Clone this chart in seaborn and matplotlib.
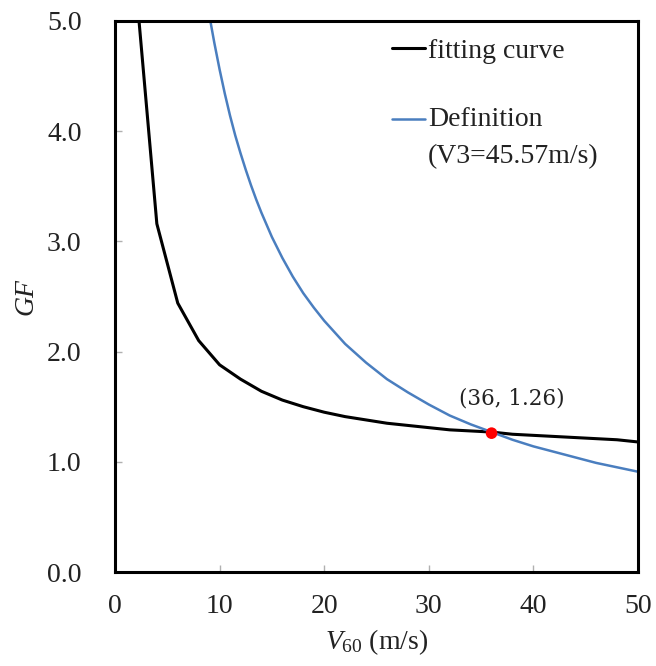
import numpy as np
import pandas as pd
import matplotlib
matplotlib.use("Agg")
import matplotlib.pyplot as plt
import seaborn as sns
from matplotlib.legend_handler import HandlerLine2D

# ---- data ----
fit_v = [2, 4, 6, 8, 10, 12, 14, 16, 18, 20, 22, 24, 26, 28, 30, 32, 34, 36, 38, 40, 42, 44, 46, 48, 50]
fit_gf = [5.32, 3.16, 2.44, 2.10, 1.88, 1.75, 1.64, 1.56, 1.50, 1.45, 1.41, 1.38, 1.35, 1.33, 1.31, 1.29, 1.28,
          1.27, 1.25, 1.24, 1.23, 1.22, 1.21, 1.20, 1.18]
def_v = [9, 9.5, 10, 10.5, 11, 11.5, 12, 12.5, 13, 13.5, 14, 15, 16, 17, 18, 19, 20, 22, 24, 26, 28, 30, 32, 34,
         36, 38, 40, 42, 44, 46, 48, 50]
def_gf = [5.06, 4.80, 4.56, 4.34, 4.14, 3.96, 3.80, 3.65, 3.51, 3.38, 3.26, 3.04, 2.85, 2.68, 2.53, 2.40, 2.28,
          2.07, 1.90, 1.75, 1.63, 1.52, 1.42, 1.34, 1.27, 1.20, 1.14, 1.09, 1.04, 0.99, 0.95, 0.91]
point_v = [36]
point_gf = [1.26]
point_label = "(36, 1.26)"
x_ticks = [0, 10, 20, 30, 40, 50]
y_ticks = [0.0, 1.0, 2.0, 3.0, 4.0, 5.0]
series_names = ["fitting curve", "Definition\n(V3=45.57m/s)"]

sns.set_theme(style="white")
plt.rcParams['font.family'] = ['Liberation Serif', 'DejaVu Serif']
plt.rcParams['mathtext.fontset'] = 'custom'
plt.rcParams['mathtext.rm'] = 'Liberation Serif'
plt.rcParams['mathtext.it'] = 'Liberation Serif:italic'

BLUE = "#4a7ebf"
FS = 20

fig = plt.figure(figsize=(6.56, 6.66), dpi=100)
ax = fig.add_axes([115 / 656, 1 - 572 / 666, 523 / 656, 551 / 666])

fit_df = pd.DataFrame({"V": fit_v, "GF": fit_gf})
def_df = pd.DataFrame({"V": def_v, "GF": def_gf})
sns.lineplot(data=fit_df, x="V", y="GF", ax=ax, color="black", lw=2.2, sort=False,
             estimator=None, label=series_names[0])
sns.lineplot(data=def_df, x="V", y="GF", ax=ax, color=BLUE, lw=1.8, sort=False,
             estimator=None, label=series_names[1])
sns.scatterplot(x=point_v, y=point_gf, ax=ax, color="red", s=70, edgecolor="none", zorder=5)
ax.text(point_v[0] + 1.9, point_gf[0] + 0.31, point_label, ha="center", va="center",
        fontsize=15.5, family=['DejaVu Serif'], color="#222222")

ax.set_xlim(x_ticks[0], x_ticks[-1])
ax.set_ylim(y_ticks[0], y_ticks[-1])
ax.set_xticks(x_ticks)
ax.set_xticklabels([str(t) for t in x_ticks])
ax.set_yticks(y_ticks)
ax.set_yticklabels([f"{t:.1f}" for t in y_ticks])
ax.tick_params(axis="both", direction="in", length=5, width=1, color="#b0b0b0",
               labelsize=FS, labelcolor="#222222", bottom=True, left=True)
ax.tick_params(axis="y", pad=24)
ax.tick_params(axis="x", pad=16)
for s in ax.spines.values():
    s.set_color("black")
    s.set_linewidth(2.2)

ax.set_ylabel("GF", fontsize=FS, fontstyle="italic", labelpad=6, color="#222222")
ax.set_xlabel(r"$\mathit{V}_{\mathrm{60}}$ (m/s)", fontsize=FS, labelpad=6, color="#222222")


class FirstLineHandler(HandlerLine2D):
    def __init__(self, shift, **kw):
        super().__init__(**kw)
        self.shift = shift

    def create_artists(self, legend, orig_handle, xdescent, ydescent, width, height, fontsize, trans):
        arts = super().create_artists(legend, orig_handle, xdescent, ydescent, width, height, fontsize, trans)
        for a in arts:
            a.set_ydata(np.asarray(a.get_ydata(), dtype=float) + self.shift)
        return arts


lines = ax.get_lines()
leg = ax.legend(handles=lines[:2], labels=series_names, loc="upper left",
                bbox_to_anchor=(0.5296, 0.969), frameon=False, fontsize=FS,
                borderpad=0, borderaxespad=0, handlelength=1.19, handletextpad=0.1,
                labelspacing=1.55,
                handler_map={lines[1]: FirstLineHandler(13.6)})
for t in leg.get_texts():
    t.set_linespacing(1.65)
    t.set_color("#222222")

fig.savefig("out.png", dpi=100, facecolor="white")
